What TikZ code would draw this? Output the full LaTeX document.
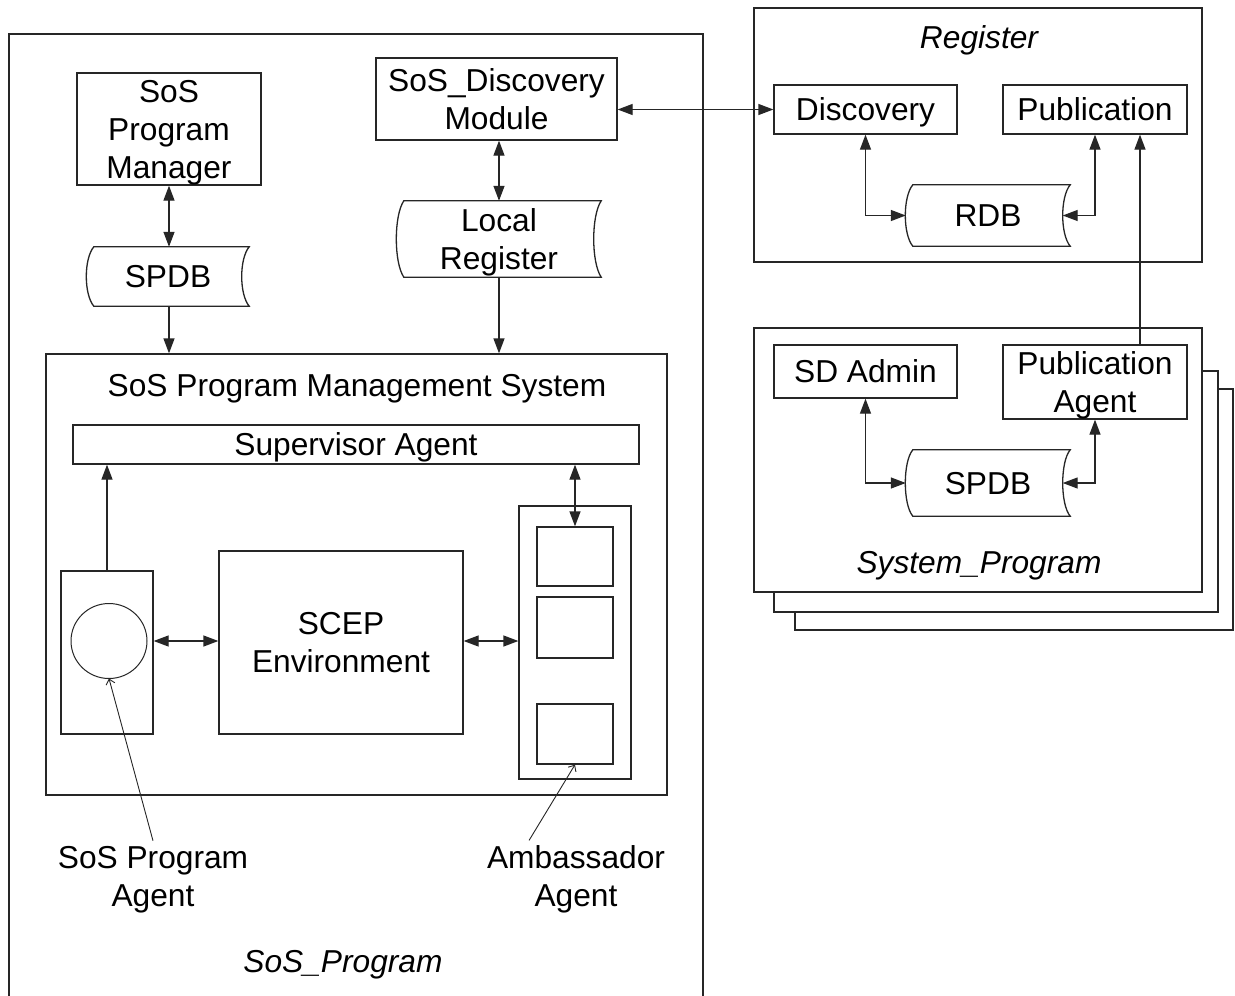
\documentclass[tikz,border=0pt]{standalone}
\usepackage{fontspec}
\setmainfont{Liberation Sans}
\usetikzlibrary{arrows.meta,calc}
\newcommand\dbshape[2][12]{%
  \draw[dbline] ($(#2.north west)+(7,0)$) -- (#2.north east)
    .. controls ($(#2.north east)+(-10,#1)$) and ($(#2.south east)+(-10,-#1)$) .. (#2.south east)
    -- ($(#2.south west)+(7,0)$)
    .. controls ($(#2.south west)+(-3,-#1)$) and ($(#2.north west)+(-3,#1)$) .. cycle;}
\begin{document}
\begin{tikzpicture}[x=1bp,y=-1bp,
  font=\fontsize{31.7bp}{38bp}\selectfont,
  box/.style={draw=black!85, line width=1.3bp, inner sep=0pt, align=center, text depth=0pt},
  dbnode/.style={inner sep=0pt, align=center, text depth=0pt},
  dbline/.style={draw=black!85, line width=1.3bp},
  txt/.style={inner sep=1bp, align=center, text depth=0pt},
  arr/.style={draw=black!85, line width=1.3bp, -{Triangle[length=15bp,width=11bp]}},
  darr/.style={draw=black!85, line width=1.3bp, {Triangle[length=15bp,width=11bp]}-{Triangle[length=15bp,width=11bp]}},
  ptr/.style={draw=black!85, line width=0.9bp, -{Straight Barb[length=5bp,width=9bp]}}]
\useasboundingbox (0,0) rectangle (1235,996);
\clip (0,0) rectangle (1235,996);
\fill[white] (0,0) rectangle (1235,996);

% ---------- SoS_Program ----------
\draw[box] (9,1010) -- (9,34) -- (703,34) -- (703,1010);
\node[txt, font=\fontsize{31.7bp}{38bp}\selectfont\itshape] (soslbl) at (343,961) {SoS\_Program};

\node[box, minimum width=184bp, minimum height=112bp] (mgr) at (169,129) {SoS\\Program\\Manager};
\node[box, minimum width=241bp, minimum height=82bp] (dmod) at (496.5,99) {SoS\_Discovery\\Module};

\node[dbnode, minimum width=162bp, minimum height=59bp] (spdb1) at (168,276.5) {SPDB};
\dbshape{spdb1}
\node[dbnode, minimum width=204bp, minimum height=76bp] (locreg) at (499,239) {Local\\Register};
\dbshape[15]{locreg}

\node[box, minimum width=621bp, minimum height=441bp] (pms) at (356.5,574.5) {};
\node[txt] (pmstitle) at (357,385) {SoS Program Management System};
\node[box, minimum width=566bp, minimum height=39bp] (sup) at (356,444.5) {Supervisor Agent};

\node[box, minimum width=92bp, minimum height=163bp] (agbox) at (107,652.5) {};
\draw[dbline, line width=1bp] (109,641) ellipse [x radius=38, y radius=37.5];
\coordinate (circ) at (109,641);
\coordinate (circS) at (109,678.5);
\node[box, minimum width=244bp, minimum height=183bp] (scep) at (341,642.5) {SCEP\\Environment};

\node[box, minimum width=112bp, minimum height=273bp] (amb) at (575,642.5) {};
\node[box, minimum width=76bp, minimum height=59bp] (amb1) at (575,556.5) {};
\node[box, minimum width=76bp, minimum height=61bp] (amb2) at (575,627.5) {};
\node[box, minimum width=76bp, minimum height=60bp] (amb3) at (575,734) {};

\node[txt] (lblspa) at (153,876) {SoS Program\\Agent};
\node[txt] (lblamb) at (576,876) {Ambassador\\Agent};
\coordinate (spaptr) at ($(lblspa.north)+(0,-4)$);
\coordinate (ambptr) at ($(lblamb.north west)!0.24!(lblamb.north east)+(0,-4)$);

\draw[darr] (mgr.south) -- (mgr.south |- spdb1.north);
\draw[darr] (locreg.north |- dmod.south) -- (locreg.north);
\draw[arr] (mgr.south |- spdb1.south) -- (mgr.south |- pms.north);
\draw[arr] (locreg.south) -- (locreg.south |- pms.north);
\draw[arr] (agbox.north) -- (agbox.north |- sup.south);
\draw[darr] (amb1.north |- sup.south) -- (amb1.north);
\draw[darr] (circ -| agbox.east) -- (circ -| scep.west);
\draw[darr] (circ -| scep.east) -- (circ -| amb.west);
\draw[ptr] (spaptr) -- (circS);
\draw[ptr] (ambptr) -- (amb3.south);

% ---------- Register ----------
\node[box, minimum width=448bp, minimum height=254bp] (reg) at (978,135) {};
\node[txt, font=\fontsize{31.7bp}{38bp}\selectfont\itshape] (reglbl) at (979,37) {Register};
\node[box, minimum width=183bp, minimum height=49bp] (disc) at (865.5,109.5) {Discovery};
\node[box, minimum width=184bp, minimum height=49bp] (pub) at (1095,109.5) {Publication};
\node[dbnode, minimum width=164bp, minimum height=61bp] (rdb) at (988,215.5) {RDB};
\dbshape{rdb}
\coordinate (rdbR) at ($(rdb.east)+(-7.5,0)$);

\draw[darr] (disc.west -| dmod.east) -- (disc.west);
\draw[darr] (disc.south) |- (rdb.west);
\draw[darr] (pub.south) |- (rdbR);

% ---------- System_Program ----------
\node[box, fill=white, minimum width=438bp, minimum height=241bp] (sys3) at (1014,509.5) {};
\node[box, fill=white, minimum width=444bp, minimum height=241bp] (sys2) at (996,491.5) {};
\node[box, fill=white, minimum width=448bp, minimum height=264bp] (sys) at (978,460) {};
\node[txt, font=\fontsize{31.7bp}{38bp}\selectfont\itshape] (syslbl) at (979,562) {System\_Program};
\node[box, minimum width=183bp, minimum height=53bp] (sdadm) at (865.5,371.5) {SD Admin};
\node[box, minimum width=184bp, minimum height=74bp] (puba) at (1095,382) {Publication\\Agent};
\node[dbnode, minimum width=164bp, minimum height=66bp] (spdb2) at (988,483) {SPDB};
\dbshape{spdb2}
\coordinate (spdb2R) at ($(spdb2.east)+(-7.5,0)$);

\draw[darr] (sdadm.south) |- (spdb2.west);
\draw[darr] (puba.south) |- (spdb2R);
\draw[arr] ($(puba.north)+(45,0)$) -- ($(pub.south)+(45,0)$);
\end{tikzpicture}
\end{document}
